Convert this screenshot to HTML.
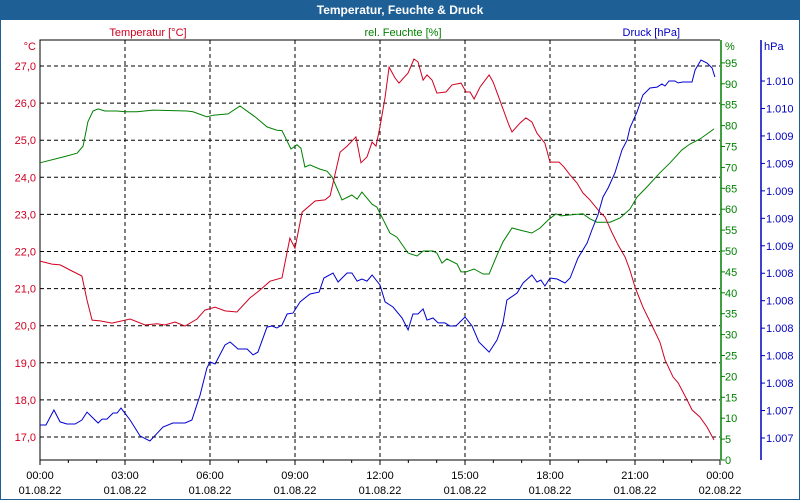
<!DOCTYPE html>
<html><head><meta charset="utf-8"><style>
html,body{margin:0;padding:0;background:#fff}
#wrap{position:relative;width:800px;height:500px;overflow:hidden;font-family:"Liberation Sans",sans-serif}
svg text{font-family:"Liberation Sans",sans-serif;font-size:11px}
</style></head><body>
<div id="wrap">
<svg id="chart" width="800" height="500">
<rect x="0" y="0" width="800" height="500" fill="#fff" stroke="#1e5f96" stroke-width="2"/>
<rect x="0" y="0" width="800" height="20" fill="#1e5f96"/>
<text x="400" y="14" text-anchor="middle" fill="#fff" font-weight="bold" style="font-size:12px">Temperatur, Feuchte &amp; Druck</text>
<text x="148" y="36" text-anchor="middle" fill="#d00020">Temperatur [°C]</text>
<text x="403" y="36" text-anchor="middle" fill="#008000">rel. Feuchte [%]</text>
<text x="680" y="36" text-anchor="end" fill="#0000c0">Druck [hPa]</text>
<text x="36" y="50" text-anchor="end" fill="#d00020">°C</text>
<text x="725" y="50" fill="#008000">%</text>
<text x="764" y="50" fill="#0000c0">hPa</text>
<g id="grid"></g><g id="axes"></g><g id="series"></g>
</svg></div>
<script>
const tempTicks=[17,18,19,20,21,22,23,24,25,26,27];
const humTicks=[0,5,10,15,20,25,30,35,40,45,50,55,60,65,70,75,80,85,90,95];
const presTickValues=[1007.0,1007.2,1007.4,1007.6,1007.8,1008.0,1008.2,1008.4,1008.6,1008.8,1009.0,1009.2,1009.4,1009.6];
const presTickLabels=["1.007","1.007","1.008","1.008","1.008","1.008","1.008","1.009","1.009","1.009","1.009","1.009","1.010","1.010"];
const timeTicks=[0,3,6,9,12,15,18,21,24];
const timeLabels=["00:00","03:00","06:00","09:00","12:00","15:00","18:00","21:00","00:00"];
const dateLabels=["01.08.22","01.08.22","01.08.22","01.08.22","01.08.22","01.08.22","01.08.22","01.08.22","02.08.22"];

const tempHours=[0,0.42,0.71,1.06,1.48,1.66,1.84,2.12,2.54,3.18,3.71,4.13,4.41,4.76,5.12,5.54,5.82,6.18,6.53,6.95,7.41,7.76,8.12,8.54,8.82,9.00,9.25,9.71,10.06,10.24,10.59,10.84,11.15,11.33,11.54,11.72,11.86,12.00,12.18,12.32,12.53,12.67,12.99,13.20,13.34,13.52,13.66,13.84,14.01,14.33,14.54,14.86,15.04,15.18,15.32,15.53,15.85,15.99,16.20,16.55,16.66,16.94,17.15,17.36,17.54,17.82,18.00,18.32,18.49,18.71,18.95,19.16,19.41,19.76,19.94,20.19,20.40,20.65,20.82,21.00,21.28,21.64,21.88,22.06,22.34,22.52,22.84,23.01,23.29,23.54,23.79];
const tempValues=[21.74,21.66,21.64,21.50,21.34,20.69,20.15,20.13,20.07,20.18,20.02,20.05,20.02,20.10,19.99,20.18,20.42,20.50,20.40,20.37,20.75,20.96,21.20,21.29,22.36,22.09,23.06,23.36,23.39,23.50,24.68,24.84,25.09,24.39,24.55,24.95,24.84,25.36,26.16,26.97,26.68,26.54,26.81,27.19,27.11,26.62,26.76,26.62,26.27,26.30,26.49,26.54,26.30,26.30,26.11,26.43,26.76,26.57,26.14,25.41,25.22,25.46,25.60,25.49,25.19,24.92,24.41,24.41,24.28,24.06,23.85,23.58,23.39,23.06,22.93,22.50,22.18,21.85,21.50,21.04,20.50,19.94,19.56,19.08,18.62,18.46,18.00,17.73,17.54,17.27,16.92];

const humHours=[0,0.81,1.31,1.52,1.69,1.87,2.05,2.29,2.72,3.00,3.42,3.99,5.19,5.40,5.89,6.11,6.64,7.06,7.59,8.01,8.36,8.54,8.86,9.07,9.21,9.35,9.53,9.88,10.13,10.31,10.66,11.01,11.19,11.36,11.72,11.89,12.35,12.60,12.99,13.31,13.52,13.87,14.01,14.19,14.36,14.72,14.86,15.04,15.32,15.64,15.85,16.13,16.34,16.66,17.05,17.36,17.65,17.93,18.21,18.39,18.64,19.16,19.41,19.66,20.12,20.47,20.82,21.07,21.42,21.88,22.24,22.66,22.94,23.29,23.54,23.79];
const humValues=[71.1,72.5,73.4,75.1,80.9,83.5,84.0,83.5,83.5,83.3,83.3,83.7,83.5,83.3,82.1,82.5,82.8,84.7,82.1,79.7,78.9,78.8,74.4,75.4,74.6,70.1,70.6,69.6,69.1,67.7,62.2,63.4,62.4,64.1,61.2,60.5,54.3,53.3,49.5,48.8,50.0,50.0,49.5,47.1,48.1,46.9,45.0,45.0,45.7,44.5,44.5,49.0,52.2,55.5,54.8,54.3,55.5,57.4,58.9,58.4,58.6,58.9,57.7,56.9,56.9,57.9,60.0,62.9,65.3,68.7,71.1,74.2,75.6,76.8,78.0,79.2];

const presHours=[0,0.21,0.49,0.71,0.95,1.24,1.48,1.66,2.05,2.19,2.36,2.58,2.72,2.86,3.18,3.53,3.88,4.34,4.69,5.12,5.36,5.65,5.89,6.00,6.18,6.53,6.71,6.99,7.31,7.52,7.69,8.01,8.19,8.36,8.54,8.72,8.93,9.18,9.53,9.85,10.02,10.34,10.52,10.84,11.01,11.19,11.36,11.54,11.72,12.00,12.18,12.46,12.78,12.99,13.16,13.34,13.52,13.66,13.87,14.05,14.29,14.47,14.68,15.00,15.25,15.49,15.85,16.13,16.34,16.48,16.84,17.05,17.36,17.54,17.68,17.82,18.00,18.25,18.53,18.71,18.99,19.31,19.48,19.69,19.87,20.05,20.29,20.54,20.72,20.82,21.07,21.28,21.53,21.78,21.95,22.06,22.20,22.41,22.52,22.69,23.01,23.12,23.33,23.54,23.72,23.82];
const presValues=[1007.095,1007.095,1007.204,1007.117,1007.102,1007.102,1007.131,1007.189,1007.109,1007.138,1007.138,1007.182,1007.182,1007.218,1007.131,1007.015,1006.978,1007.080,1007.109,1007.109,1007.131,1007.313,1007.510,1007.554,1007.539,1007.677,1007.699,1007.648,1007.648,1007.605,1007.626,1007.808,1007.816,1007.801,1007.823,1007.903,1007.910,1007.991,1008.049,1008.063,1008.165,1008.202,1008.136,1008.202,1008.202,1008.143,1008.158,1008.143,1008.187,1008.114,1007.991,1007.954,1007.874,1007.787,1007.903,1007.903,1007.940,1007.859,1007.874,1007.838,1007.838,1007.816,1007.816,1007.881,1007.816,1007.699,1007.626,1007.714,1007.838,1008.005,1008.056,1008.129,1008.187,1008.136,1008.151,1008.107,1008.165,1008.158,1008.129,1008.165,1008.311,1008.420,1008.515,1008.624,1008.755,1008.821,1008.930,1009.098,1009.170,1009.258,1009.374,1009.498,1009.549,1009.556,1009.578,1009.564,1009.600,1009.600,1009.586,1009.593,1009.593,1009.680,1009.753,1009.731,1009.695,1009.629];

const L=40,R=720,T=40,B=460;
const xS=h=>L+h*(R-L)/24;
const yT=v=>437-(v-17)*37.1;
const yH=v=>B-v*4.18;
const yP=v=>438-(v-1007)/0.2*27.46;
const NS="http://www.w3.org/2000/svg";
function mk(tag,attrs,parent,txt){const e=document.createElementNS(NS,tag);for(const k in attrs)e.setAttribute(k,attrs[k]);if(txt!==undefined)e.textContent=txt;document.getElementById(parent).appendChild(e);return e;}

// grid
tempTicks.forEach((v,i)=>{
  const e=mk('line',{x1:L,x2:R,y1:yT(v),y2:yT(v),stroke:'#000','stroke-dasharray':'4,3'},'grid');
  
  
  const t=mk('text',{x:36,y:yT(v)+4,'text-anchor':'end',fill:'#d00020'},'axes',v.toFixed(1).replace('.',','));
  
  
});
timeTicks.forEach((h,i)=>{
  if(i>0&&i<timeTicks.length-1){
    const e=mk('line',{x1:xS(h),x2:xS(h),y1:T,y2:B,stroke:'#000','stroke-dasharray':'4,3'},'grid');
    
    
  }
  const a=mk('text',{x:xS(h),y:479,'text-anchor':'middle',fill:'#000'},'axes',timeLabels[i]);
  
  
  const b=mk('text',{x:xS(h),y:494,'text-anchor':'middle',fill:'#000'},'axes',dateLabels[i]);
  
  
});
for(let h=0;h<=24;h++){
  const e=mk('line',{x1:xS(h),x2:xS(h),y1:B,y2:B+(h%3===0?5:3),stroke:'#000'},'axes');
  
  
}
// axes lines
let ax=mk('path',{d:`M${L},${B}V${T}H${R}`,stroke:'#000',fill:'none'},'axes');


ax=mk('line',{x1:L,x2:R,y1:B,y2:B,stroke:'#000'},'axes');


ax=mk('line',{x1:R+1,x2:R+1,y1:T,y2:B,stroke:'#008000','stroke-width':1.5},'axes');


ax=mk('line',{x1:761,x2:761,y1:T,y2:B,stroke:'#0000c0','stroke-width':1.5},'axes');


humTicks.forEach(v=>{
  const e=mk('line',{x1:R+1,x2:R+5,y1:yH(v),y2:yH(v),stroke:'#008000'},'axes');
  
  
  const t=mk('text',{x:725,y:yH(v)+4,fill:'#008000'},'axes',String(v));
  
  
});
presTickValues.forEach((v,i)=>{
  const e=mk('line',{x1:761,x2:765,y1:yP(v),y2:yP(v),stroke:'#0000c0'},'axes');
  
  
  const t=mk('text',{x:766,y:yP(v)+4,fill:'#0000c0'},'axes',presTickLabels[i]);
  
  
});
function line(hs,vs,yf,col,name){
  const d=hs.map((h,i)=>(i?'L':'M')+xS(h).toFixed(1)+','+yf(vs[i]).toFixed(1)).join('');
  const p=mk('path',{d:d,stroke:col,fill:'none','stroke-width':1},'series');
  
  
}
line(humHours,humValues,yH,'#008000','humidity-line');
line(tempHours,tempValues,yT,'#d00020','temperature-line');
line(presHours,presValues,yP,'#0000d0','pressure-line');
</script>
</body></html>
